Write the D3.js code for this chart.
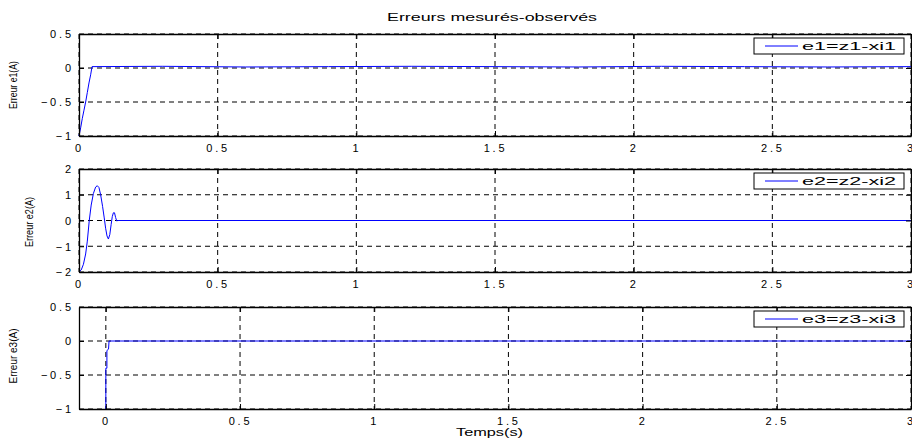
<!DOCTYPE html>
<html>
<head>
<meta charset="utf-8">
<script src="https://cdn.jsdelivr.net/npm/d3@7.9.0/dist/d3.min.js"></script>
<style>
  body { margin: 0; background: #fff; }
  svg text { font-family: "Liberation Sans", Arial, sans-serif; fill: #000; }
</style>
</head>
<body>
<svg id="fig" width="912" height="439"></svg>
<script>
// ---- data ----
const xTicks = [0, 0.5, 1, 1.5, 2, 2.5, 3];

// e1 = z1 - xi1
const tE1 = [0, 0.006, 0.012, 0.018, 0.024, 0.03, 0.036, 0.042, 0.047, 0.3, 0.6, 0.9, 1.2, 1.5, 1.8, 2.1, 2.4, 2.7, 3];
const vE1 = [-1, -0.88, -0.74, -0.62, -0.5, -0.36, -0.22, -0.1, 0.02, 0.025, 0.015, 0.02, 0.025, 0.02, 0.015, 0.025, 0.02, 0.015, 0.02];

// e2 = z2 - xi2
const tE2 = [0, 0.008, 0.016, 0.024, 0.03, 0.037, 0.044, 0.052, 0.06, 0.066, 0.072, 0.078, 0.085, 0.091, 0.096, 0.101, 0.106, 0.111, 0.116, 0.12, 0.124, 0.128, 0.132, 0.136, 0.14, 3];
const vE2 = [-2, -1.92, -1.7, -1.3, -0.8, 0, 0.6, 1.05, 1.3, 1.35, 1.28, 1.0, 0.55, 0.1, -0.3, -0.6, -0.72, -0.55, -0.15, 0.15, 0.3, 0.3, 0.12, -0.02, 0, 0];

// e3 = z3 - xi3
const tE3 = [0, 0, 0.004, 0.004, 0.01, 0.012, 3];
const vE3 = [-1, -0.4, -0.4, -0.14, -0.12, 0, 0];

const panels = [
  { t: tE1, v: vE1, xDom: [0, 3], yDom: [-1, 0.5], yTicks: [-1, -0.5, 0, 0.5], top: 34, bottom: 136,
    ylab: "Erreur e1(A)", ylx: 17, yly: 85, yll: 48, leg: "e1=z1-xi1" },
  { t: tE2, v: vE2, xDom: [0, 3], yDom: [-2, 2], yTicks: [-2, -1, 0, 1, 2], top: 169, bottom: 272,
    ylab: "Erreur e2(A)", ylx: 33, yly: 222, yll: 50, leg: "e2=z2-xi2" },
  { t: tE3, v: vE3, xDom: [-0.1, 3], yDom: [-1, 0.5], yTicks: [-1, -0.5, 0, 0.5], top: 307, bottom: 409,
    ylab: "Erreur e3(A)", ylx: 17, yly: 356, yll: 55, leg: "e3=z3-xi3" }
];

const left = 79, right = 911;
const tickFont = 11, tickSpace = 2.8;
const svg = d3.select('#fig');

panels.forEach((p, i) => {
  const x = d3.scaleLinear().domain(p.xDom).range([left, right]);
  const y = d3.scaleLinear().domain(p.yDom).range([p.bottom, p.top]);
  const g = svg.append('g');

  // dashed grid
  g.selectAll('.gx').data(xTicks).enter().append('line')
    .attr('x1', d => x(d)).attr('x2', d => x(d))
    .attr('y1', p.top).attr('y2', p.bottom)
    .attr('stroke', '#000').attr('stroke-width', 1).attr('stroke-dasharray', '5,4');
  g.selectAll('.gy').data(p.yTicks).enter().append('line')
    .attr('x1', left).attr('x2', right)
    .attr('y1', d => y(d)).attr('y2', d => y(d))
    .attr('stroke', '#000').attr('stroke-width', 1).attr('stroke-dasharray', '5,4');

  // curve
  const pts = p.t.map((t, k) => [t, p.v[k]]);
  g.append('path')
    .datum(pts)
    .attr('d', d3.line().x(d => x(d[0])).y(d => y(d[1])))
    .attr('fill', 'none').attr('stroke', '#0000ff').attr('stroke-width', 1);

  // axes (ticks inward, box)
  const ax = [
    d3.axisBottom(x).tickValues(xTicks).tickSizeInner(-5).tickSizeOuter(0).tickFormat(d3.format('')),
    d3.axisTop(x).tickValues(xTicks).tickSizeInner(-5).tickSizeOuter(0).tickFormat(''),
    d3.axisLeft(y).tickValues(p.yTicks).tickSizeInner(-5).tickSizeOuter(0).tickFormat(d3.format('')),
    d3.axisRight(y).tickValues(p.yTicks).tickSizeInner(-5).tickSizeOuter(0).tickFormat('')
  ];
  const pos = [`translate(0,${p.bottom})`, `translate(0,${p.top})`, `translate(${left},0)`, `translate(${right},0)`];
  ax.forEach((a, k) => {
    const ag = g.append('g').attr('transform', pos[k]).call(a);
    ag.select('.domain').attr('stroke', '#000').attr('stroke-width', 1.3);
    ag.selectAll('text').attr('font-size', tickFont)
      .attr('font-family', '"Liberation Sans", Arial, sans-serif')
      .style('letter-spacing', tickSpace + 'px');
    if (k === 0) ag.selectAll('text').attr('y', 8).attr('dy', '0.71em');
    if (k === 2) ag.selectAll('text').attr('x', -8 + tickSpace).attr('dy', '0.36em');
  });

  // y label (squeezed like the original)
  svg.append('text')
    .attr('transform', `translate(${p.ylx},${p.yly}) rotate(-90)`)
    .attr('text-anchor', 'middle')
    .attr('font-size', 10)
    .attr('textLength', p.yll).attr('lengthAdjust', 'spacingAndGlyphs')
    .text(p.ylab);

  // legend
  const lx = right - 157, ly = p.top + 4;
  svg.append('rect').attr('x', lx).attr('y', ly).attr('width', 150).attr('height', 16)
    .attr('fill', '#fff').attr('stroke', '#000').attr('stroke-width', 1);
  svg.append('line').attr('x1', lx + 11).attr('x2', lx + 44).attr('y1', ly + 8).attr('y2', ly + 8)
    .attr('stroke', '#0000ff').attr('stroke-width', 1);
  svg.append('text').attr('x', lx + 48).attr('y', ly + 12).attr('font-size', 11)
    .attr('textLength', 94).attr('lengthAdjust', 'spacingAndGlyphs').text(p.leg);
});

svg.append('text').attr('x', 387).attr('y', 21)
  .attr('font-size', 11).attr('textLength', 210).attr('lengthAdjust', 'spacingAndGlyphs')
  .text('Erreurs mesurés-observés');
svg.append('text').attr('x', 456).attr('y', 436)
  .attr('font-size', 11).attr('textLength', 67).attr('lengthAdjust', 'spacingAndGlyphs')
  .text('Temps(s)');
</script>
</body>
</html>
